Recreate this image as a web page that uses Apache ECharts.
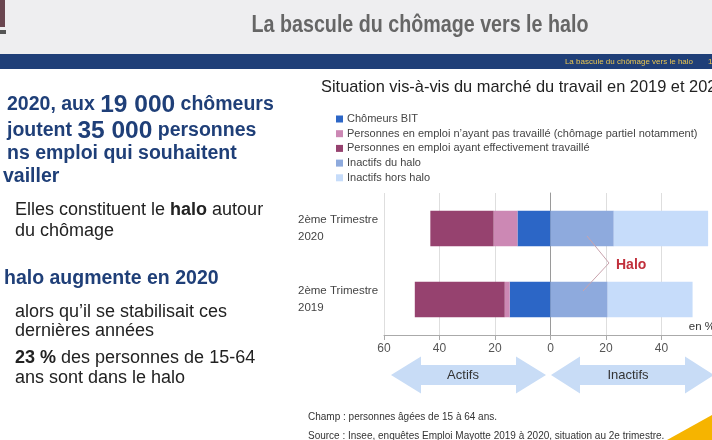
<!DOCTYPE html>
<html><head><meta charset="utf-8">
<script src="https://cdn.jsdelivr.net/npm/echarts@6/dist/echarts.min.js"></script>
<style>html,body{margin:0;padding:0;background:#fff}#c{width:712px;height:440px}</style>
</head><body><div id="c"></div>
<script>
var categories = ['2ème Trimestre\n2019', '2ème Trimestre\n2020'];
var seriesNames = ['Chômeurs BIT', 'Personnes en emploi n\u2019ayant pas travaillé (chômage partiel notamment)', 'Personnes en emploi ayant effectivement travaillé', 'Inactifs du halo', 'Inactifs hors halo'];
var chomeurs = [-14.7, -11.9];
var emploiNonTravail = [-1.8, -8.6];
var emploiTravail = [-32.4, -22.8];
var inactifsHalo = [20.6, 22.8];
var inactifsHorsHalo = [30.6, 34.0];

var colors = ['#2c66c6', '#cc88b4', '#96426f', '#8eaadd', '#c6dcfa'];
var FONT = "'Liberation Sans', Arial, sans-serif";
var blue = '#1f3f78';

function arrowPts(x1, x2, yc, head, hh, sh) {
  return [[x1, yc], [x1 + head, yc - hh], [x1 + head, yc - sh], [x2 - head, yc - sh], [x2 - head, yc - hh], [x2, yc],
          [x2 - head, yc + hh], [x2 - head, yc + sh], [x1 + head, yc + sh], [x1 + head, yc + hh]];
}

var chart = echarts.init(document.getElementById('c'), null, {renderer: 'canvas'});
var allSeries = [chomeurs, emploiNonTravail, emploiTravail, inactifsHalo, inactifsHorsHalo].map(function (d, i) {
  return {
    name: seriesNames[i], type: 'bar', stack: 'total', data: d, barWidth: 35.5,
    itemStyle: {color: colors[i]}, emphasis: {disabled: true}, silent: true
  };
});

var txt = function (s, b) { return (b ? 'bold ' : '') + s + "px 'Liberation Sans'"; };

chart.setOption({
  animation: false,
  backgroundColor: '#ffffff',
  textStyle: {fontFamily: FONT},
  color: colors,
  legend: {
    orient: 'vertical', left: 331, top: 108, itemWidth: 7, itemHeight: 7, itemGap: 2.7,
    icon: 'rect', selectedMode: false,
    textStyle: {fontFamily: FONT, fontSize: 11, color: '#444', lineHeight: 12, padding: [0, 0, 0, -1]},
    data: seriesNames
  },
  grid: {left: 384, top: 193, width: 333, height: 142, containLabel: false, outerBoundsMode: 'none'},
  xAxis: {
    type: 'value', min: -60, max: 60, interval: 20,
    axisLine: {show: true, onZero: false, lineStyle: {color: '#aaaaaa'}},
    axisTick: {show: true, length: 5, lineStyle: {color: '#aaaaaa'}},
    axisLabel: {formatter: function (v) { return Math.abs(v); }, fontSize: 12, color: '#555', margin: 8, fontFamily: FONT, showMaxLabel: false},
    splitLine: {show: true, lineStyle: {color: '#dedede'}}
  },
  yAxis: {
    type: 'category', data: categories,
    axisLine: {show: true, onZero: true, lineStyle: {color: '#9a9a9a'}},
    axisTick: {show: false},
    axisLabel: {align: 'left', margin: 86, fontSize: 11.5, color: '#444', lineHeight: 17, padding: [18, 0, 0, 0], fontFamily: FONT}
  },
  series: allSeries,
  graphic: [
    // header
    {type: 'rect', shape: {x: 0, y: 0, width: 712, height: 54}, style: {fill: '#eeeef0'}, z: -10},
    {type: 'rect', shape: {x: 0, y: 54, width: 712, height: 15}, style: {fill: blue}, z: -9},
    {type: 'rect', shape: {x: 0, y: 0, width: 5, height: 27}, style: {fill: '#6a4650'}},
    {type: 'rect', shape: {x: 0, y: 30, width: 6, height: 4}, style: {fill: '#555'}},
    {type: 'text', x: 420, y: 25, scaleX: 0.82, style: {text: 'La bascule du chômage vers le halo', font: txt(24, true), fill: '#666666', align: 'center', verticalAlign: 'middle'}},
    {type: 'text', x: 693, y: 62, style: {text: 'La bascule du chômage vers le halo', font: txt(8), fill: '#e8c550', align: 'right', verticalAlign: 'middle'}},
    {type: 'text', x: 708, y: 62, style: {text: '1', font: txt(8), fill: '#e8c550', align: 'left', verticalAlign: 'middle'}},
    // left text
    {type: 'text', x: 7, y: 105, style: {text: '{a|2020, aux }{b|19 000}{a| chômeurs}', verticalAlign: 'middle',
      rich: {a: {font: txt(19.5, true), fill: blue, color: blue}, b: {font: txt(24.5, true), fill: blue, color: blue}}}},
    {type: 'text', x: 7, y: 131, style: {text: '{a|joutent }{b|35 000}{a| personnes}', verticalAlign: 'middle',
      rich: {a: {font: txt(19.5, true), fill: blue, color: blue}, b: {font: txt(24.5, true), fill: blue, color: blue}}}},
    {type: 'text', x: 7, y: 154, style: {text: 'ns emploi qui souhaitent', font: txt(19.5, true), fill: blue, verticalAlign: 'middle'}},
    {type: 'text', x: 3, y: 177, style: {text: 'vailler', font: txt(19.5, true), fill: blue, verticalAlign: 'middle'}},
    {type: 'text', x: 15, y: 210, style: {text: '{a|Elles constituent le }{b|halo}{a| autour}', verticalAlign: 'middle',
      rich: {a: {font: txt(18), fill: '#222', color: '#222'}, b: {font: txt(18, true), fill: '#222', color: '#222'}}}},
    {type: 'text', x: 15, y: 231, style: {text: 'du chômage', font: txt(18), fill: '#222', verticalAlign: 'middle'}},
    {type: 'text', x: 4, y: 279, style: {text: 'halo augmente en 2020', font: txt(19.5, true), fill: blue, verticalAlign: 'middle'}},
    {type: 'text', x: 15, y: 312, style: {text: 'alors qu\u2019il se stabilisait ces', font: txt(18), fill: '#222', verticalAlign: 'middle'}},
    {type: 'text', x: 15, y: 331, style: {text: 'dernières années', font: txt(18), fill: '#222', verticalAlign: 'middle'}},
    {type: 'text', x: 15, y: 358, style: {text: '{b|23 %}{a| des personnes de 15-64}', verticalAlign: 'middle',
      rich: {a: {font: txt(18), fill: '#222', color: '#222'}, b: {font: txt(18, true), fill: '#222', color: '#222'}}}},
    {type: 'text', x: 15, y: 378, style: {text: 'ans sont dans le halo', font: txt(18), fill: '#222', verticalAlign: 'middle'}},
    // chart title
    {type: 'text', x: 321, y: 87, style: {text: 'Situation vis-à-vis du marché du travail en 2019 et 2020', font: txt(16.4), fill: '#222', verticalAlign: 'middle'}},
    {type: 'text', x: 715, y: 327, style: {text: 'en %', font: txt(11.5), fill: '#333', align: 'right', verticalAlign: 'middle'}},
    // halo bracket
    {type: 'polyline', shape: {points: [[587, 236], [609, 263], [583, 291]]}, style: {stroke: '#c9a3ad', lineWidth: 1, fill: null}, z: 100},
    {type: 'text', x: 616, y: 265, style: {text: 'Halo', font: txt(14, true), fill: '#c1303c', verticalAlign: 'middle'}, z: 100},
    // arrows
    {type: 'polygon', shape: {points: arrowPts(391, 546, 375, 30, 18.5, 10)}, style: {fill: '#c8dcf6'}},
    {type: 'polygon', shape: {points: arrowPts(551, 714, 375, 29, 18.5, 10)}, style: {fill: '#c8dcf6'}},
    {type: 'text', x: 463, y: 375, style: {text: 'Actifs', font: txt(13), fill: '#333', align: 'center', verticalAlign: 'middle'}},
    {type: 'text', x: 628, y: 375, style: {text: 'Inactifs', font: txt(13), fill: '#333', align: 'center', verticalAlign: 'middle'}},
    // footer
    {type: 'text', x: 308, y: 417, style: {text: 'Champ : personnes âgées de 15 à 64 ans.', font: txt(10), fill: '#333', verticalAlign: 'middle'}},
    {type: 'text', x: 308, y: 436, style: {text: 'Source : Insee, enquêtes Emploi Mayotte 2019 à 2020, situation au 2e trimestre.', font: txt(10), fill: '#333', verticalAlign: 'middle'}},
    {type: 'polygon', shape: {points: [[667, 440], [712, 415], [712, 440]]}, style: {fill: '#f6b400'}, z: 50}
  ]
});
</script></body></html>
